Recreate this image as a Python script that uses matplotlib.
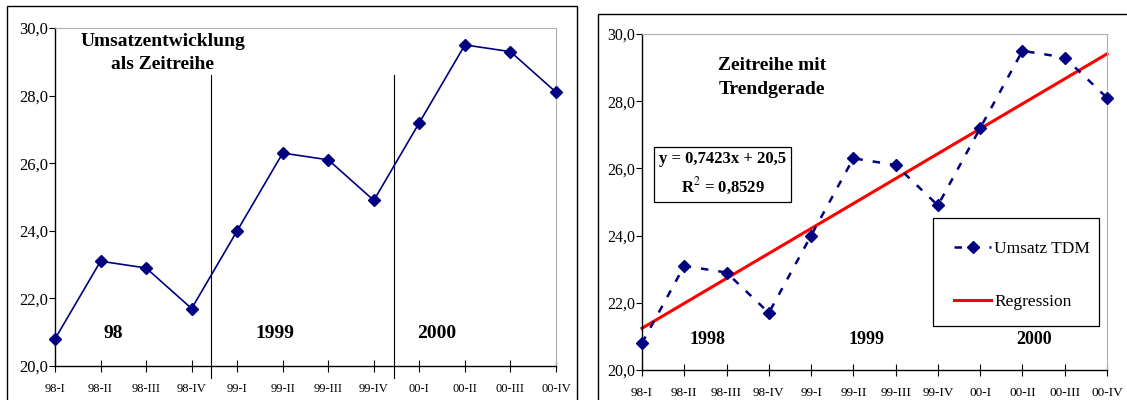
"""Umsatzentwicklung als Zeitreihe, links roh, rechts mit linearer Trendgerade."""

import matplotlib
matplotlib.use("Agg")
import matplotlib.pyplot as plt
import numpy as np
from matplotlib.patches import Rectangle
from matplotlib.ticker import FuncFormatter

QUARTERS = ["98-I", "98-II", "98-III", "98-IV", "99-I", "99-II", "99-III", "99-IV",
            "00-I", "00-II", "00-III", "00-IV"]
UMSATZ = [20.8, 23.1, 22.9, 21.7, 24.0, 26.3, 26.1, 24.9, 27.2, 29.5, 29.3, 28.1]
YEAR_SPLITS = [3.42, 7.45]
YEARS_LEFT = ["98", "1999", "2000"]
YEAR_POS_LEFT = [1.27, 4.83, 8.37]
YEARS_RIGHT = ["1998", "1999", "2000"]
YEAR_POS_RIGHT = [1.55, 5.3, 9.27]
Y_TICKS = [20, 22, 24, 26, 28, 30]

NAVY = "#000080"
SERIF = ["Liberation Serif", "DejaVu Serif"]

plt.rcParams.update({"font.family": SERIF, "mathtext.fontset": "stix"})


def style_axes(ax, xlabel_size=9, ylabel_size=10.5):
    ax.set_xlim(0, len(QUARTERS) - 1)
    ax.set_ylim(20, 30)
    ax.set_xticks(range(len(QUARTERS)))
    ax.set_xticklabels(QUARTERS, fontsize=xlabel_size)
    ax.set_yticks(Y_TICKS)
    ax.yaxis.set_major_formatter(FuncFormatter(lambda v, _: f"{v:.1f}".replace(".", ",")))
    ax.tick_params(axis="y", labelsize=ylabel_size, length=4, width=0.8, pad=1)
    ax.tick_params(axis="x", direction="inout", length=8, width=0.8, pad=8)
    for side in ("top", "right"):
        ax.spines[side].set_color("#b0b0b0")
    for side in ("left", "bottom"):
        ax.spines[side].set_color("black")
        ax.spines[side].set_linewidth(1.0)


fig = plt.figure(figsize=(11.27, 4.0), dpi=100)
fig.patch.set_facecolor("white")

# outer frames around both charts
fig.add_artist(Rectangle((7 / 1127, -0.05), 570 / 1127, 1.0 - 6 / 400 + 0.05,
                         transform=fig.transFigure, fill=False, lw=1.0, ec="black"))
fig.add_artist(Rectangle((598 / 1127, -0.05), 540 / 1127, 1.0 - 14 / 400 + 0.05,
                         transform=fig.transFigure, fill=False, lw=1.0, ec="black"))

x = np.arange(len(QUARTERS))
y = np.array(UMSATZ)

# --- left: raw time series ---
ax1 = fig.add_axes([55 / 1127, 34 / 400, 501 / 1127, 338 / 400])
ax1.plot(x, y, color=NAVY, lw=1.2, marker="D", ms=6.5, mfc=NAVY, mec=NAVY, clip_on=False, zorder=3)
for xs in YEAR_SPLITS:
    ax1.plot([xs, xs], [19.65, 28.6], color="black", lw=0.8, clip_on=False)
style_axes(ax1, xlabel_size=9, ylabel_size=12)
ax1.text(0.215, 0.985, "Umsatzentwicklung\nals Zeitreihe", transform=ax1.transAxes,
         ha="center", va="top", multialignment="center", fontsize=14, fontweight="bold",
         linespacing=1.45)
for xc, lab in zip(YEAR_POS_LEFT, YEARS_LEFT):
    ax1.text(xc, 20.95, lab, ha="center", va="center", fontsize=14, fontweight="bold")

# --- right: with regression line ---
slope, intercept = np.polyfit(x + 1, y, 1)
r2 = np.corrcoef(x, y)[0, 1] ** 2
ax2 = fig.add_axes([642 / 1127, 30 / 400, 465 / 1127, 336 / 400])
ax2.plot(x, y, color=NAVY, lw=1.8, ls=(0, (3, 4)), marker="D", ms=6.5, mfc=NAVY, mec=NAVY,
         clip_on=False, zorder=3, label="Umsatz TDM")
ax2.plot(x, slope * (x + 1) + intercept, color="red", lw=2.2, clip_on=False, zorder=2,
         label="Regression")
style_axes(ax2, xlabel_size=9.5, ylabel_size=11.5)
ax2.text(0.28, 0.933, "Zeitreihe mit\nTrendgerade", transform=ax2.transAxes,
         ha="center", va="top", multialignment="center", fontsize=14, fontweight="bold",
         linespacing=1.55)
eq = f"y = {slope:.4f}x + {intercept:.1f}".replace(".", ",")
r2_txt = f"R$^2$ = {r2:.4f}".replace(".", ",")
ax2.text(0.174, 0.583, eq + "\n" + r2_txt, transform=ax2.transAxes, ha="center", va="center",
         multialignment="center", fontsize=12, fontweight="bold", linespacing=1.5,
         bbox=dict(boxstyle="square,pad=0.3", fc="white", ec="black", lw=0.9))
for xc, lab in zip(YEAR_POS_RIGHT, YEARS_RIGHT):
    ax2.text(xc, 20.92, lab, ha="center", va="center", fontsize=13, fontweight="bold")

# legend box drawn separately (Excel-style uneven padding)
ax2.add_patch(Rectangle((0.626, 0.131), 0.357, 0.321, transform=ax2.transAxes,
                        fill=True, fc="white", ec="black", lw=0.9, zorder=4))
leg = ax2.legend(loc="upper left", bbox_to_anchor=(0.672, 0.385), fontsize=12.5,
                 frameon=False, handlelength=2.1, handletextpad=0.2, labelspacing=2.15,
                 borderpad=0, borderaxespad=0)
leg.set_zorder(5)

fig.savefig("out.png", dpi=100, facecolor="white")
